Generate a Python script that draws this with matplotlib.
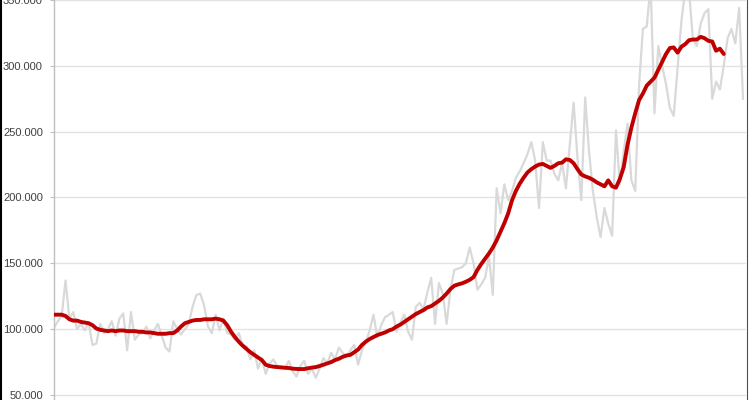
import numpy as np
import matplotlib
matplotlib.use("Agg")
import matplotlib.pyplot as plt
from matplotlib.ticker import FuncFormatter, MultipleLocator
from matplotlib.lines import Line2D

# Monthly values (in thousands)
raw_values = [
    101, 106, 110, 137, 108, 113, 100, 104, 99, 105,
    88, 89, 104, 97, 100, 106, 95, 108, 112, 84,
    113, 92, 96, 97, 102, 93, 99, 104, 95, 86,
    83, 106, 100, 96, 100, 104, 117, 126, 127, 118,
    102, 97, 111, 99, 108, 97, 96, 92, 97, 88,
    87, 77, 84, 70, 78, 66, 74, 77, 72, 70,
    70, 76, 68, 64, 72, 76, 66, 70, 63, 70,
    78, 74, 82, 77, 86, 82, 79, 84, 88, 73,
    84, 90, 99, 111, 94, 103, 109, 111, 113, 98,
    105, 111, 98, 92, 117, 120, 115, 128, 139, 104,
    135, 127, 104, 130, 145, 146, 147, 150, 162, 150,
    130, 134, 139, 155, 126, 207, 188, 210, 198, 205,
    215, 220, 226, 233, 242, 228, 192, 242, 228, 228,
    218, 213, 226, 207, 240, 272, 230, 198, 276, 235,
    205, 185, 170, 192, 180, 171, 251, 210, 235, 256,
    213, 205, 285, 328, 330, 362, 264, 315, 300, 286,
    268, 262, 298, 334, 358, 356, 320, 315, 332, 340,
    343, 275, 288, 282, 300, 321, 328, 317, 344, 275,
]

trend_values = [
    111, 111, 111, 110, 107.5, 106.5, 106.5, 105.5, 105, 104.5,
    103, 100.5, 99.5, 99, 98.5, 99, 98.5, 99, 99, 98.5,
    98.5, 98.5, 98, 98, 97.5, 97.5, 97, 96.5, 96.5, 96.5,
    97, 97, 99, 102, 104.5, 105.5, 106.5, 107, 107, 107.5,
    107.5, 107.5, 108, 107.5, 106.5, 103, 98, 94, 90.5, 87.5,
    85, 82.5, 80.5, 78.5, 76.5, 73, 72, 71.5, 71.2, 71,
    70.7, 70.5, 70, 69.8, 69.7, 69.7, 70.3, 70.8, 71.2, 72,
    73, 74, 75, 76.5, 77.5, 79, 80, 80.5, 82.5, 84.5,
    88, 90.5, 92.5, 94, 95.5, 96.5, 97.5, 99, 100, 102,
    103.5, 105.5, 107.5, 109.5, 111.5, 113, 114.5, 116.5, 117.5, 119.5,
    121.5, 124, 127, 130.5, 133, 134, 134.8, 136, 137.5, 139.5,
    145, 149.5, 153.5, 157.5, 162, 167.5, 174, 180.5, 188, 198,
    205, 210.5, 215, 219, 221.5, 223.5, 225, 225.5, 224, 222.5,
    224, 226, 226.5, 229, 228.5, 226, 221.5, 217.5, 216, 215,
    213.5, 211.5, 210, 208.5, 213, 208.5, 207.5, 214, 223, 240,
    253, 264, 274, 279, 285, 288, 291, 297, 303, 309,
    313.5, 314, 310, 314.5, 316.5, 319.5, 320, 320, 322, 321,
    319, 318.5, 311.5, 313, 309,
]

y_ticks = [50000, 100000, 150000, 200000, 250000, 300000, 350000]

raw = np.array(raw_values) * 1000
trend = np.array(trend_values) * 1000
x_raw = np.arange(len(raw))
x_trend = np.arange(len(trend))

W, H = 750, 400
fig = plt.figure(figsize=(W / 100, H / 100), dpi=100)
ax_left = 54 / W
ax_right = 746 / W
ax = fig.add_axes([ax_left, 0, ax_right - ax_left, 1])

ax.plot(x_raw, raw, color="#D9D9D9", lw=1.6, solid_joinstyle="round", zorder=2)
ax.plot(x_trend, trend, color="#C00000", lw=2.8, solid_joinstyle="round",
        solid_capstyle="round", zorder=3)

# x: index 0 at left spine, last raw index at ~743 px
ax.set_xlim(0, (len(raw) - 1) * (692 / 689))
ax.set_ylim(46200, 349300)

ax.set_yticks(y_ticks)
ax.yaxis.set_major_formatter(FuncFormatter(lambda v, p: f"{v:,.0f}".replace(",", ".")))
ax.set_xticks([])
ax.grid(axis="y", color="#E3E3E3", lw=1.0, zorder=0)
ax.set_axisbelow(True)

for s in ["top", "right", "bottom"]:
    ax.spines[s].set_visible(False)
ax.spines["left"].set_color("#BFBFBF")
ax.spines["left"].set_linewidth(1.0)
ax.tick_params(axis="y", length=3, width=0.8, color="#BFBFBF", pad=5,
               labelsize=8, labelcolor="#404040")
for lbl in ax.get_yticklabels():
    lbl.set_family("Liberation Sans")

# screenshot borders
fig.add_artist(Line2D([1 / W, 1 / W], [0, 1], color="black", lw=1.5,
                      transform=fig.transFigure))
fig.add_artist(Line2D([747 / W, 747 / W], [0, 1], color="#505050", lw=0.8,
                      transform=fig.transFigure))

fig.savefig("out.png", dpi=100)
